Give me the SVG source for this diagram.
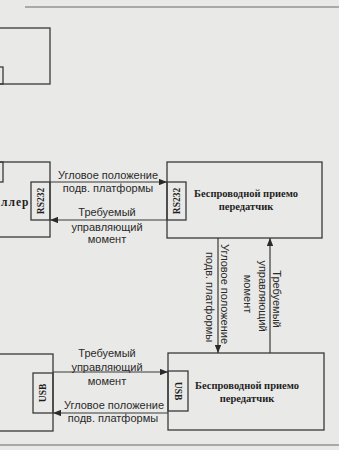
<svg xmlns="http://www.w3.org/2000/svg" width="339" height="450" viewBox="0 0 339 450">
<style>
.bg{fill:#e9e9e7}
.box{fill:none;stroke:#3a3a3a;stroke-width:1.3}
.rule{stroke:#6a6a6a;stroke-width:1.2}
.ln{stroke:#3a3a3a;stroke-width:1.2;fill:none}
.lbl{font-family:"Liberation Sans",Arial,sans-serif;font-size:11px;fill:#2a2a2a;text-anchor:middle}
.bt{font-family:"Liberation Serif","Times New Roman",serif;font-weight:bold;font-size:10.5px;fill:#1e1e1e;text-anchor:middle}
.port{font-family:"Liberation Serif","Times New Roman",serif;font-weight:bold;font-size:9.5px;fill:#1e1e1e;text-anchor:middle}
.ctl{font-family:"Liberation Serif","Times New Roman",serif;font-weight:bold;font-size:11.5px;fill:#1e1e1e;letter-spacing:1px}
</style>
<defs>
<marker id="ah" viewBox="0 0 10 8" refX="10" refY="4" markerWidth="8" markerHeight="6.5" markerUnits="userSpaceOnUse" orient="auto">
<path d="M0,0 L10,4 L0,8 Z" fill="#2a2a2a"/>
</marker>
</defs>
<rect class="bg" x="0" y="0" width="339" height="450"/>
<line class="rule" x1="25" y1="7" x2="339" y2="7"/>
<line class="rule" x1="0" y1="445" x2="339" y2="445"/>

<g id="top-box">
<rect class="box" x="-5" y="28" width="55" height="56"/>
<rect class="box" x="-5" y="67" width="8" height="17"/>
</g>

<g id="controller">
<rect class="box" x="-5" y="162" width="55" height="75"/>
<rect class="box" x="-5" y="162" width="8" height="20"/>
<text class="ctl" x="1" y="206">ллер</text>
<rect class="box" x="31" y="182" width="19" height="38"/>
<text class="port" transform="translate(44,201) rotate(-90)">RS232</text>
</g>

<g id="transceiver-top">
<rect class="box" x="167" y="162" width="155" height="76"/>
<rect class="box" x="167" y="182" width="19" height="38"/>
<text class="port" transform="translate(180,201) rotate(-90)">RS232</text>
<text class="bt" x="246" y="197">Беспроводной приемо</text>
<text class="bt" x="246" y="210">передатчик</text>
</g>

<g id="pc-usb">
<rect class="box" x="-5" y="354" width="58" height="77"/>
<rect class="box" x="33" y="373" width="20" height="40"/>
<text class="port" transform="translate(46,393) rotate(-90)">USB</text>
</g>

<g id="transceiver-bottom">
<rect class="box" x="168" y="353" width="156" height="77"/>
<rect class="box" x="168" y="371" width="20" height="40"/>
<text class="port" transform="translate(175,391) rotate(90)">USB</text>
<text class="bt" x="247" y="389">Беспроводной приемо</text>
<text class="bt" x="247" y="402">передатчик</text>
</g>

<g id="connectors">
<line class="ln" x1="50" y1="182" x2="167" y2="182" marker-end="url(#ah)"/>
<line class="ln" x1="167" y1="220" x2="50" y2="220" marker-end="url(#ah)"/>
<line class="ln" x1="218" y1="238" x2="218" y2="353" marker-end="url(#ah)"/>
<line class="ln" x1="270" y1="353" x2="270" y2="238" marker-end="url(#ah)"/>
<line class="ln" x1="53" y1="372" x2="168" y2="372" marker-end="url(#ah)"/>
<line class="ln" x1="168" y1="413" x2="53" y2="413" marker-end="url(#ah)"/>
</g>

<g id="labels">
<text class="lbl" x="108" y="179">Угловое положение</text>
<text class="lbl" x="108" y="192">подв. платформы</text>
<text class="lbl" x="107" y="216">Требуемый</text>
<text class="lbl" x="107" y="231">управляющий</text>
<text class="lbl" x="107" y="243">момент</text>
<text class="lbl" transform="translate(221,294) rotate(90)">Угловое положение</text>
<text class="lbl" transform="translate(206,297) rotate(90)">подв. платформы</text>
<text class="lbl" transform="translate(273,299) rotate(90)">Требуемый</text>
<text class="lbl" transform="translate(259,296) rotate(90)">управляющий</text>
<text class="lbl" transform="translate(244,294) rotate(90)">момент</text>
<text class="lbl" x="107" y="357">Требуемый</text>
<text class="lbl" x="107" y="371">управляющий</text>
<text class="lbl" x="107" y="385">момент</text>
<text class="lbl" x="114" y="409">Угловое положение</text>
<text class="lbl" x="113" y="422">подв. платформы</text>
</g>
</svg>
